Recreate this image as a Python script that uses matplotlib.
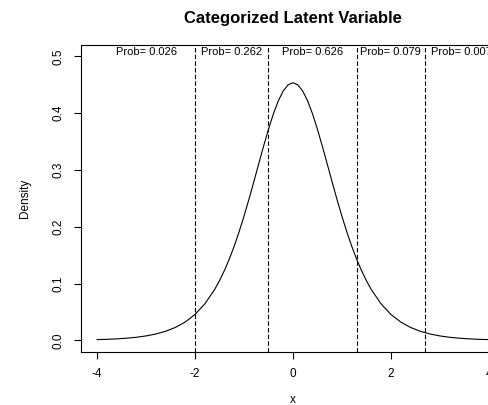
import matplotlib
matplotlib.use("Agg")
import matplotlib.pyplot as plt

plt.rcParams['font.family'] = ['Liberation Sans', 'DejaVu Sans']

# density curve (finer near the peak)
x_vals = [-4.0, -3.8, -3.6, -3.4, -3.2, -3.0, -2.8, -2.6, -2.4, -2.2, -2.0,
          -1.8, -1.6, -1.5, -1.4, -1.3, -1.2, -1.1, -1.0, -0.9, -0.8, -0.7, -0.6,
          -0.5, -0.4, -0.3, -0.2, -0.1, 0.0,
          0.1, 0.2, 0.3, 0.4, 0.5, 0.6, 0.7, 0.8, 0.9, 1.0, 1.1, 1.2, 1.3,
          1.4, 1.5, 1.6, 1.8, 2.0,
          2.2, 2.4, 2.6, 2.8, 3.0, 3.2, 3.4, 3.6, 3.8, 4.0]
density = [0.0013, 0.0018, 0.0026, 0.0038, 0.0054, 0.0078, 0.0112, 0.0160, 0.0228, 0.0323, 0.0457,
           0.0643, 0.0895, 0.1051, 0.1230, 0.1432, 0.1659, 0.1912, 0.2186, 0.2481, 0.2790, 0.3106, 0.3419,
           0.3717, 0.3987, 0.4215, 0.4389, 0.4498, 0.4535,
           0.4498, 0.4389, 0.4215, 0.3987, 0.3717, 0.3419, 0.3106, 0.2790, 0.2481, 0.2186, 0.1912, 0.1659, 0.1432,
           0.1230, 0.1051, 0.0895, 0.0643, 0.0457,
           0.0323, 0.0228, 0.0160, 0.0112, 0.0078, 0.0054, 0.0038, 0.0026, 0.0018, 0.0013]

# thresholds and category probabilities
cuts = [-2.0, -0.5, 1.3, 2.7]
prob_x = [-3.0, -1.25, 0.4, 2.0, 3.45]
prob_labels = ["Prob= 0.026", "Prob= 0.262", "Prob= 0.626", "Prob= 0.079", "Prob= 0.007"]

fig = plt.figure(figsize=(4.88, 4.05), dpi=100)
ax = fig.add_axes([0.167, 0.1316, 0.8666, 0.7573])

ax.plot(x_vals, density, color='black', linewidth=0.8)
for c in cuts:
    ax.axvline(c, color='black', linewidth=0.8, linestyle=(0, (4, 2)))
for px, lab in zip(prob_x, prob_labels):
    ax.text(px, 0.507, lab, ha='center', va='center', fontsize=8, clip_on=False)

ax.set_xlim(-4.32, 4.32)
ax.set_ylim(-0.02, 0.52)
ax.set_xticks([-4, -2, 0, 2, 4])
ax.set_xticklabels(["-4", "-2", "0", "2", "4"])
ax.set_yticks([0.0, 0.1, 0.2, 0.3, 0.4, 0.5])
ax.set_yticklabels(["0.0", "0.1", "0.2", "0.3", "0.4", "0.5"], rotation=90, va='center')
ax.tick_params(direction='out', length=5, width=0.8, labelsize=8.5)
ax.tick_params(axis='x', pad=7)
ax.tick_params(axis='y', pad=7)
for s in ax.spines.values():
    s.set_linewidth(0.8)

ax.set_xlabel("x", fontsize=8.5)
ax.set_ylabel("Density", fontsize=8.5)
ax.xaxis.set_label_coords((292.7 - 81.5) / 422.9, -(400 - 351.7) / 306.7)
ax.yaxis.set_label_coords(-(81.5 - 25) / 422.9, 0.5)
ax.xaxis.label.set_va('center')
ax.yaxis.label.set_va('center')

fig.text(293 / 488, 1 - 18 / 405, "Categorized Latent Variable",
         ha='center', va='center', fontsize=12, fontweight='bold')

plt.savefig("out.png", dpi=100)
